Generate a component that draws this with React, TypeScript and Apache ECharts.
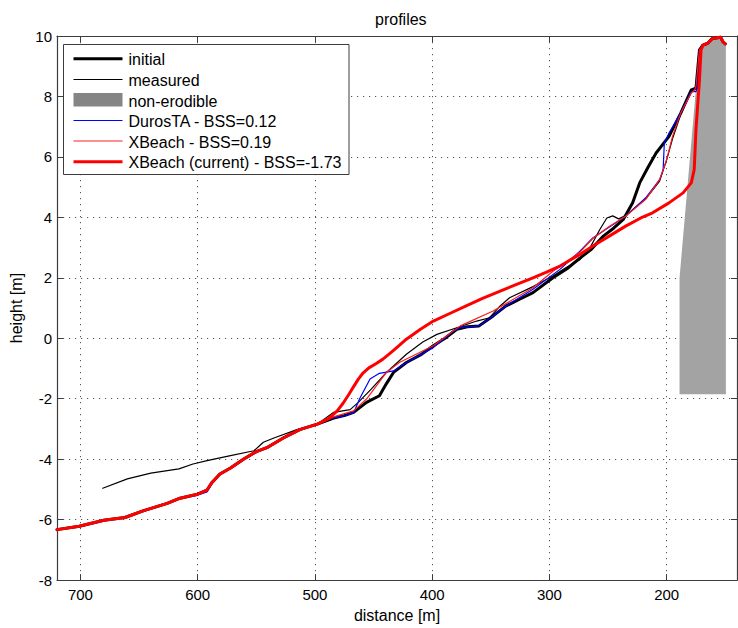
import React, { useEffect, useRef } from "react";
import * as echarts from "echarts";

// distance [m], height [m]
const nonErodible: [number, number][] = [
  [189, -1.85], [189, 2.0], [172, 9.6], [170, 9.7], [165, 9.76], [161, 9.92],
  [154, 9.96], [152, 9.81], [149.5, 9.74], [149.5, -1.85],
];

const initialProfile: [number, number][] = [
  [720, -6.33], [701, -6.22], [680, -6.02], [662, -5.93], [646, -5.7], [626, -5.46],
  [615, -5.29], [601, -5.17], [592, -5.02], [588, -4.78], [581, -4.49], [572, -4.29],
  [561, -4.0], [550, -3.75], [541, -3.62], [527, -3.3], [513, -3.02], [498, -2.84],
  [484, -2.64], [475, -2.56], [467, -2.45], [456, -2.12], [445, -1.9], [439, -1.5],
  [433, -1.13], [422, -0.8], [410, -0.55], [399, -0.25], [389, 0.0], [379, 0.3],
  [370, 0.38], [360, 0.41], [348, 0.74], [337, 1.07], [325, 1.3], [314, 1.51],
  [297, 2.0], [285, 2.3], [274, 2.65], [264, 2.95], [254, 3.38], [245, 3.65],
  [237, 3.93], [229, 4.48], [223, 5.14], [216, 5.65], [209, 6.13], [198, 6.68],
  [188, 7.45], [179, 8.22], [175, 8.27], [172, 9.54], [169, 9.7], [165, 9.76],
  [161, 9.92], [154, 9.96], [152, 9.81], [150, 9.74],
];

const measuredProfile: [number, number][] = [
  [681, -4.96], [660, -4.65], [640, -4.46], [616, -4.32], [604, -4.16], [592, -4.05],
  [572, -3.88], [552, -3.72], [544, -3.44], [535, -3.3], [516, -3.03], [498, -2.84],
  [484, -2.45], [470, -2.36], [463, -2.12], [452, -1.68], [439, -1.13], [422, -0.53],
  [408, -0.12], [396, 0.13], [379, 0.35], [362, 0.57], [351, 0.68], [342, 1.07],
  [334, 1.34], [314, 1.71], [297, 2.06], [286, 2.33], [274, 2.6], [266, 2.95],
  [257, 3.6], [251, 3.98], [246, 4.05], [241, 3.95], [234, 4.08], [226, 4.35],
  [217, 4.65], [206, 5.2], [200, 5.9], [195, 6.6], [188, 7.4], [180, 8.1],
  [176, 8.28], [174.5, 8.36], [172.5, 9.5], [170, 9.7], [165, 9.76],
];

const durosProfile: [number, number][] = [
  [720, -6.33], [701, -6.22], [680, -6.02], [662, -5.93], [646, -5.7], [626, -5.46],
  [615, -5.29], [601, -5.2], [592, -5.08], [588, -4.82], [581, -4.49], [572, -4.29],
  [561, -4.0], [550, -3.75], [541, -3.62], [527, -3.3], [513, -3.02], [498, -2.84],
  [487, -2.66], [475, -2.57], [467, -2.47], [462, -2.01], [453, -1.35], [445, -1.16],
  [433, -1.08], [422, -0.8], [399, -0.31], [382, 0.24], [376, 0.35], [360, 0.41],
  [348, 0.74], [337, 1.07], [314, 1.62], [291, 2.28], [274, 2.88], [263, 3.32],
  [235, 4.04], [218, 4.64], [206, 5.25], [203, 5.58], [202, 6.46], [198, 6.79],
  [188, 7.45], [179, 8.16], [175, 8.16], [173.5, 8.33], [172, 9.54], [169, 9.7],
  [165, 9.76], [161, 9.92], [154, 9.96], [152, 9.81], [150, 9.74],
];

const xbeachProfile: [number, number][] = [
  [720, -6.33], [701, -6.22], [680, -6.02], [662, -5.93], [646, -5.7], [626, -5.46],
  [615, -5.29], [601, -5.17], [592, -5.02], [588, -4.78], [581, -4.49], [572, -4.29],
  [561, -4.0], [550, -3.75], [541, -3.62], [527, -3.3], [513, -3.02], [498, -2.84],
  [484, -2.6], [467, -2.4], [456, -2.01], [439, -1.13], [428, -0.8], [399, -0.25],
  [376, 0.41], [348, 0.9], [314, 1.67], [297, 2.22], [274, 2.85], [263, 3.3],
  [249, 3.7], [235, 4.04], [218, 4.59], [206, 5.25], [200, 5.91], [195, 6.68],
  [188, 7.45], [179, 8.11], [176, 8.22], [175, 8.33], [172, 9.54], [169, 9.7],
  [165, 9.76], [161, 9.92], [154, 9.96], [152, 9.81], [150, 9.74],
];

const xbeachCurrentProfile: [number, number][] = [
  [720, -6.33], [701, -6.22], [680, -6.02], [662, -5.93], [646, -5.7], [626, -5.46],
  [615, -5.29], [601, -5.17], [592, -5.02], [588, -4.78], [581, -4.49], [572, -4.29],
  [561, -4.0], [550, -3.75], [541, -3.62], [527, -3.3], [513, -3.02], [498, -2.84],
  [488, -2.65], [481, -2.4], [476, -2.15], [471, -1.85], [467, -1.6], [463, -1.35],
  [459, -1.15], [454, -0.98], [448, -0.84], [442, -0.69], [436, -0.5], [429, -0.27],
  [422, -0.03], [410, 0.3], [399, 0.57], [385, 0.82], [371, 1.07],
  [357, 1.32], [342, 1.56], [328, 1.78], [314, 2.0], [303, 2.18], [291, 2.39],
  [274, 2.77], [263, 3.05], [249, 3.38], [235, 3.71], [222, 3.98], [212, 4.15],
  [198, 4.48], [186, 4.81], [179, 5.14], [176.5, 5.58], [175, 6.9], [172, 8.55],
  [170.7, 9.54], [169, 9.7], [165, 9.76], [161, 9.92], [154, 9.96], [152, 9.81],
  [150, 9.74],
];

const legendLabels = [
  "initial",
  "measured",
  "non-erodible",
  "DurosTA - BSS=0.12",
  "XBeach - BSS=0.19",
  "XBeach (current) - BSS=-1.73",
];

const FONT = "'Liberation Sans', Arial, Helvetica, sans-serif";

export default function App() {
  const ref = useRef<HTMLDivElement>(null);
  useEffect(() => {
    if (!ref.current) return;
    const chart = echarts.init(ref.current, undefined, { renderer: "svg" });

    const axisLineColor = "#3c3c3c";
    const gridStyle = { color: "#555", width: 1, type: [1.2, 4.8] as any };

    const legendRows = [58.7, 79.5, 100, 120.5, 141, 161.7];
    const legendGraphics: any[] = [
      {
        type: "rect",
        shape: { x: 63.5, y: 44.5, width: 285.5, height: 130 },
        style: { fill: "#fff", stroke: "#3c3c3c", lineWidth: 1 },
        z: 100,
      },
    ];
    const sampleStyles: any[] = [
      { kind: "line", stroke: "#000", lineWidth: 3 },
      { kind: "line", stroke: "#000", lineWidth: 1.2 },
      { kind: "rect", fill: "#858585" },
      { kind: "line", stroke: "#0000ff", lineWidth: 1.2 },
      { kind: "line", stroke: "#ff2020", lineWidth: 1.2 },
      { kind: "line", stroke: "#ff0000", lineWidth: 3 },
    ];
    legendLabels.forEach((label, i) => {
      const y = legendRows[i];
      const s = sampleStyles[i];
      if (s.kind === "line") {
        legendGraphics.push({
          type: "line",
          shape: { x1: 73.5, y1: y, x2: 122.5, y2: y },
          style: { stroke: s.stroke, lineWidth: s.lineWidth },
          z: 101,
        });
      } else {
        legendGraphics.push({
          type: "rect",
          shape: { x: 73.5, y: y - 7, width: 49, height: 13.5 },
          style: { fill: s.fill },
          z: 101,
        });
      }
      legendGraphics.push({
        type: "text",
        x: 128.5,
        y: y + 1,
        style: {
          text: label,
          fontSize: 16,
          fontFamily: FONT,
          fill: "#000",
          verticalAlign: "middle",
          align: "left",
        },
        z: 101,
      });
    });

    const lineSeries = (name: string, data: [number, number][], color: string, width: number, z: number) => ({
      name,
      type: "line",
      data,
      showSymbol: false,
      symbol: "none",
      smooth: false,
      silent: true,
      z,
      lineStyle: { color, width, cap: "round", join: "round" },
    });

    chart.setOption({
      animation: false,
      backgroundColor: "#fff",
      title: {
        text: "profiles",
        left: 375,
        top: 11,
        padding: 0,
        textStyle: { fontSize: 16, fontWeight: "normal", fontFamily: FONT, color: "#000" },
      },
      grid: { left: 57, top: 36, right: 1, bottom: 46, containLabel: false },
      xAxis: [
        {
          type: "value",
          min: 140,
          max: 720,
          inverse: true,
          splitNumber: 6,
          name: "distance [m]",
          nameLocation: "middle",
          nameGap: 25,
          nameTextStyle: { fontSize: 16, fontFamily: FONT, color: "#000" },
          axisLine: { show: true, onZero: false, lineStyle: { color: axisLineColor, width: 1.2 } },
          axisTick: { show: true, inside: true, length: 6, lineStyle: { color: axisLineColor } },
          axisLabel: {
            fontSize: 15,
            fontFamily: FONT,
            color: "#000",
            margin: 7,
            showMinLabel: false,
            showMaxLabel: false,
            formatter: (v: number) => (v % 100 === 0 ? String(v) : ""),
          },
          splitLine: { show: true, lineStyle: gridStyle },
        },
        {
          type: "value",
          min: 140,
          max: 720,
          inverse: true,
          splitNumber: 6,
          position: "top",
          axisLine: { show: true, onZero: false, lineStyle: { color: axisLineColor, width: 1.2 } },
          axisTick: { show: true, inside: true, length: 6, lineStyle: { color: axisLineColor } },
          axisLabel: { show: false },
          splitLine: { show: false },
        },
      ],
      yAxis: [
        {
          type: "value",
          min: -8,
          max: 10,
          interval: 2,
          name: "height [m]",
          nameLocation: "middle",
          nameGap: 32,
          nameTextStyle: { fontSize: 16, fontFamily: FONT, color: "#000" },
          axisLine: { show: true, onZero: false, lineStyle: { color: axisLineColor, width: 1.2 } },
          axisTick: { show: true, inside: true, length: 6, lineStyle: { color: axisLineColor } },
          axisLabel: { fontSize: 15, fontFamily: FONT, color: "#000", margin: 5 },
          splitLine: { show: true, lineStyle: gridStyle },
        },
        {
          type: "value",
          min: -8,
          max: 10,
          interval: 2,
          position: "right",
          axisLine: { show: true, onZero: false, lineStyle: { color: axisLineColor, width: 1.2 } },
          axisTick: { show: true, inside: true, length: 6, lineStyle: { color: axisLineColor } },
          axisLabel: { show: false },
          splitLine: { show: false },
        },
      ],
      series: [
        {
          name: "non-erodible",
          type: "custom",
          silent: true,
          z: 1,
          clip: true,
          data: [nonErodible[0]],
          renderItem: (_params: any, api: any) => ({
            type: "polygon",
            shape: { points: nonErodible.map((p) => api.coord(p)) },
            style: { fill: "#a3a3a3", stroke: "none" },
          }),
        },
        lineSeries("initial", initialProfile, "#000000", 3, 2),
        lineSeries("measured", measuredProfile, "#000000", 1.2, 3),
        lineSeries("DurosTA - BSS=0.12", durosProfile, "#0000ff", 1.2, 4),
        lineSeries("XBeach - BSS=0.19", xbeachProfile, "#ff1a1a", 1.2, 5),
        lineSeries("XBeach (current) - BSS=-1.73", xbeachCurrentProfile, "#ff0000", 3, 6),
      ],
      graphic: legendGraphics,
    });

    return () => chart.dispose();
  }, []);

  return (
    <div
      ref={ref}
      style={{ position: "absolute", left: 0, top: 0, width: 738, height: 628 }}
    />
  );
}
